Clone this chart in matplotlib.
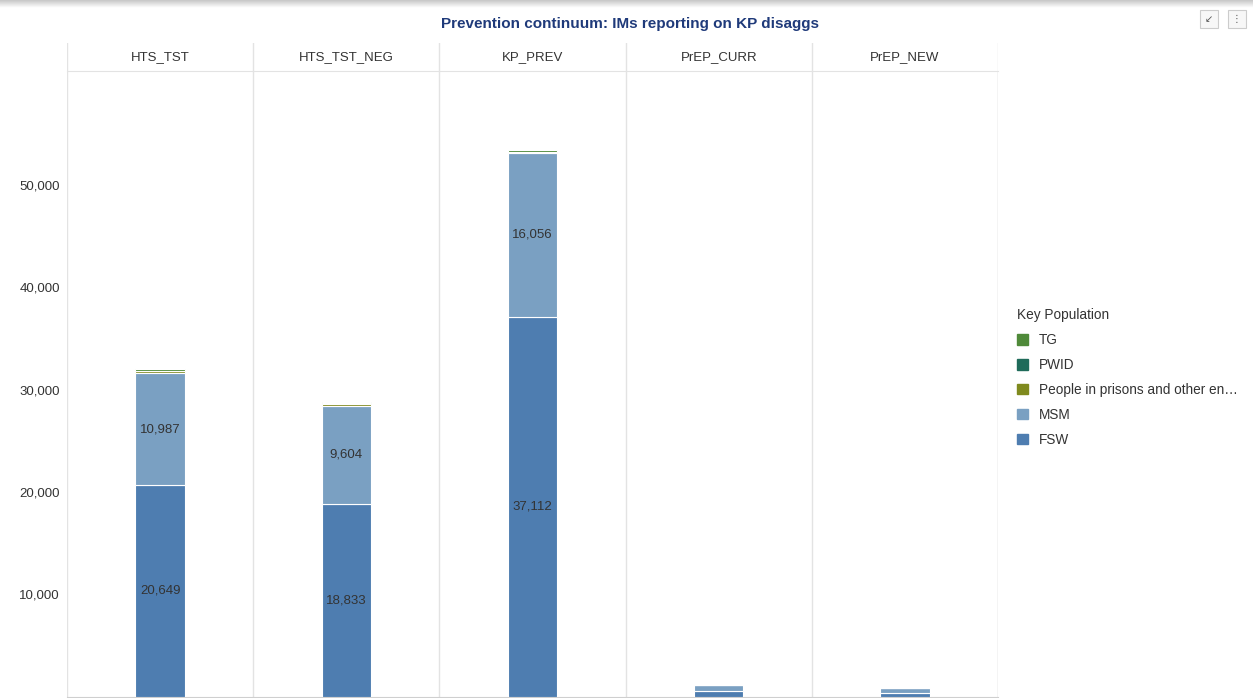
import numpy as np
import matplotlib.pyplot as plt
from matplotlib.patches import Patch, Rectangle

plt.rcParams['font.family'] = ['Liberation Sans', 'DejaVu Sans']

# data
indicators = ["HTS_TST", "HTS_TST_NEG", "KP_PREV", "PrEP_CURR", "PrEP_NEW"]
fsw = [20649, 18833, 37112, 520, 380]
msm = [10987, 9604, 16056, 560, 450]
prisons = [150, 120, 60, 0, 0]
pwid = [60, 100, 40, 0, 0]
tg = [150, 130, 180, 0, 0]
labelled = [True, True, True, False, False]

col_fsw = "#4e7db0"
col_msm = "#7aa0c2"
col_prisons = "#7f8a1e"
col_pwid = "#1f6b5a"
col_tg = "#4f8a3a"
txt = "#333333"
grid = "#e3e3e3"

W, H = 1253, 698
fig = plt.figure(figsize=(W / 100, H / 100), dpi=100)

# grey shadow strip on top of the panel
band = fig.add_axes([0, 1 - 8 / H, 1, 8 / H])
band.imshow(np.linspace(0.78, 1.0, 20).reshape(-1, 1), cmap="gray", vmin=0, vmax=1,
            aspect="auto", extent=[0, 1, 0, 1])
band.axis("off")

x0, x1 = 67 / W, 998 / W
ytop, ybot = 71 / H, 696.5 / H
ax = fig.add_axes([x0, 1 - ybot, x1 - x0, ybot - ytop])
hdr = fig.add_axes([x0, 1 - ytop, x1 - x0, 28 / H])

x = np.arange(len(indicators))
bw = 0.265
bottom = np.zeros(len(x))
segments = [(fsw, col_fsw), (msm, col_msm), (prisons, col_prisons), (pwid, col_pwid), (tg, col_tg)]
for vals, c in segments:
    ax.bar(x, vals, bw, bottom=bottom, color=c, edgecolor="white", linewidth=0.8, zorder=3)
    bottom = bottom + np.array(vals)

for i in range(len(x)):
    if labelled[i]:
        ax.text(x[i], fsw[i] / 2, f"{fsw[i]:,}", ha="center", va="center", fontsize=9.5, color=txt, zorder=4)
        ax.text(x[i], fsw[i] + msm[i] / 2, f"{msm[i]:,}", ha="center", va="center", fontsize=9.5, color=txt, zorder=4)

ax.set_xlim(-0.5, len(x) - 0.5)
ax.set_ylim(0, 61140)
ax.set_xticks([])
ax.set_yticks([10000, 20000, 30000, 40000, 50000])
ax.set_yticklabels([f"{v:,}" for v in [10000, 20000, 30000, 40000, 50000]], fontsize=9.5, color=txt)
ax.tick_params(axis="y", length=0, pad=5)
for s in ["top", "right", "left"]:
    ax.spines[s].set_visible(False)
ax.spines["bottom"].set_color("#cfcfcf")
for b in np.arange(-0.5, len(x), 1.0):
    ax.axvline(b, color=grid, lw=1, zorder=1)
ax.axvline(len(x) - 0.5, color=grid, lw=1, zorder=1)

hdr.set_xlim(-0.5, len(x) - 0.5)
hdr.set_ylim(0, 1)
hdr.set_xticks([])
hdr.set_yticks([])
for s in ["top", "right", "left"]:
    hdr.spines[s].set_visible(False)
hdr.spines["bottom"].set_color(grid)
for b in np.arange(-0.5, len(x) + 0.5, 1.0):
    hdr.axvline(b, color=grid, lw=1)
for i, name in enumerate(indicators):
    hdr.text(i, 0.5, name, ha="center", va="center", fontsize=9.5, color=txt)

fig.text(630 / W, 1 - 24 / H, "Prevention continuum: IMs reporting on KP disaggs",
         ha="center", va="center", fontsize=11, fontweight="bold", color="#1f3a7a")

# small toolbar boxes at top right
for xc, s in [(1209, "\u2199"), (1237, "\u22ee")]:
    fig.patches.append(Rectangle(((xc - 9) / W, 1 - 28 / H), 18 / W, 18 / H, transform=fig.transFigure,
                                 facecolor="#f7f7f7", edgecolor="#cccccc", lw=0.8))
    fig.text(xc / W, 1 - 19 / H, s, ha="center", va="center", fontsize=7, color="#555555")

handles = [Patch(color=col_tg), Patch(color=col_pwid), Patch(color=col_prisons),
           Patch(color=col_msm), Patch(color=col_fsw)]
names = ["TG", "PWID", "People in prisons and other en\u2026", "MSM", "FSW"]
leg = fig.legend(handles, names, title="Key Population", loc="upper left",
                 bbox_to_anchor=(1005 / W, 1 - 296 / H), frameon=False, fontsize=9.8,
                 title_fontsize=9.8, handlelength=0.8, handleheight=0.8, labelspacing=0.8,
                 handletextpad=0.8, alignment="left")
for t in leg.get_texts():
    t.set_color(txt)
leg.get_title().set_color(txt)

fig.savefig("out.png", dpi=100)
